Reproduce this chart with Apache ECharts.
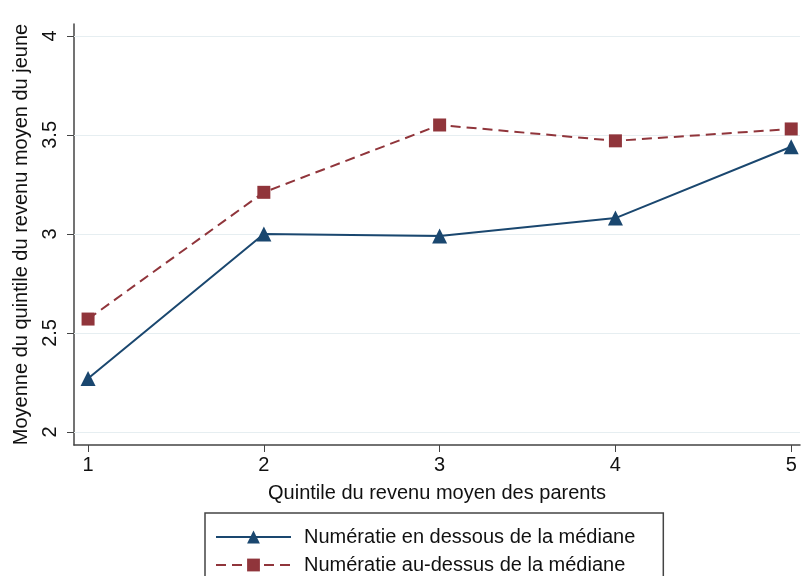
<!DOCTYPE html>
<html>
<head>
<meta charset="utf-8">
<script src="https://cdn.jsdelivr.net/npm/echarts@6/dist/echarts.min.js"></script>
<style>
  html, body { margin: 0; padding: 0; background: #fff; }
  #chart { width: 802px; height: 576px; }
</style>
</head>
<body>
<div id="chart"></div>
<script>
const quintiles = [1, 2, 3, 4, 5]
const belowMedian = [2.27, 3.0, 2.99, 3.08, 3.44]
const aboveMedian = [2.57, 3.21, 3.55, 3.47, 3.53]
const yTicks = [2, 2.5, 3, 3.5, 4]

const blue = '#1a476f'
const red = '#90353b'
const font = 'Liberation Sans, Arial, sans-serif'

const chart = echarts.init(document.getElementById('chart'))
chart.setOption({
  backgroundColor: '#fff',
  animation: false,
  textStyle: { fontFamily: font },
  grid: { left: 74, right: 2, top: 24, bottom: 131 },
  xAxis: {
    type: 'value',
    min: 0.92,
    max: 5.05,
    name: 'Quintile du revenu moyen des parents',
    nameLocation: 'middle',
    nameGap: 38,
    nameTextStyle: { fontSize: 20, color: '#111', fontFamily: font },
    axisLine: { lineStyle: { color: '#444', width: 1.5 } },
    axisTick: { customValues: quintiles, length: 7, lineStyle: { color: '#444' } },
    axisLabel: { customValues: quintiles, fontSize: 20, color: '#111', margin: 10, fontFamily: font },
    splitLine: { show: false }
  },
  yAxis: {
    type: 'value',
    min: 1.934,
    max: 4.06,
    name: 'Moyenne du quintile du revenu moyen du jeune',
    nameLocation: 'middle',
    nameGap: 43,
    nameTextStyle: { fontSize: 20, color: '#111', fontFamily: font },
    axisLine: { show: true, lineStyle: { color: '#444', width: 1.5 } },
    axisTick: { show: true, customValues: yTicks, length: 7, lineStyle: { color: '#444' } },
    axisLabel: { customValues: yTicks, rotate: 90, fontSize: 20, color: '#111', margin: 14, fontFamily: font },
    splitLine: { show: false }
  },
  legend: {
    orient: 'vertical',
    left: 205,
    top: 513,
    height: 200,
    padding: [14, 28, 30, 10],
    itemGap: 8,
    itemWidth: 75,
    itemHeight: 16,
    borderColor: '#444',
    borderWidth: 1.5,
    textStyle: { fontSize: 20, color: '#111', fontFamily: font, padding: [0, 0, 0, 8] },
    data: ['Numératie en dessous de la médiane', 'Numératie au-dessus de la médiane']
  },
  series: [
    {
      name: 'grid',
      type: 'line',
      data: [],
      z: 1,
      markLine: {
        silent: true,
        z: 1,
        symbol: 'none',
        label: { show: false },
        lineStyle: { color: '#e6eef1', width: 1.2, type: 'solid' },
        data: yTicks.map(v => ({ yAxis: v }))
      }
    },
    {
      name: 'Numératie en dessous de la médiane',
      type: 'line',
      data: quintiles.map((q, i) => [q, belowMedian[i]]),
      symbol: 'triangle',
      symbolSize: 15,
      itemStyle: { color: blue },
      lineStyle: { color: blue, width: 2 },
      z: 3
    },
    {
      name: 'Numératie au-dessus de la médiane',
      type: 'line',
      data: quintiles.map((q, i) => [q, aboveMedian[i]]),
      symbol: 'rect',
      symbolSize: 13,
      itemStyle: { color: red },
      lineStyle: { color: red, width: 2, type: [10, 6] },
      z: 3
    }
  ]
})
</script>
</body>
</html>
